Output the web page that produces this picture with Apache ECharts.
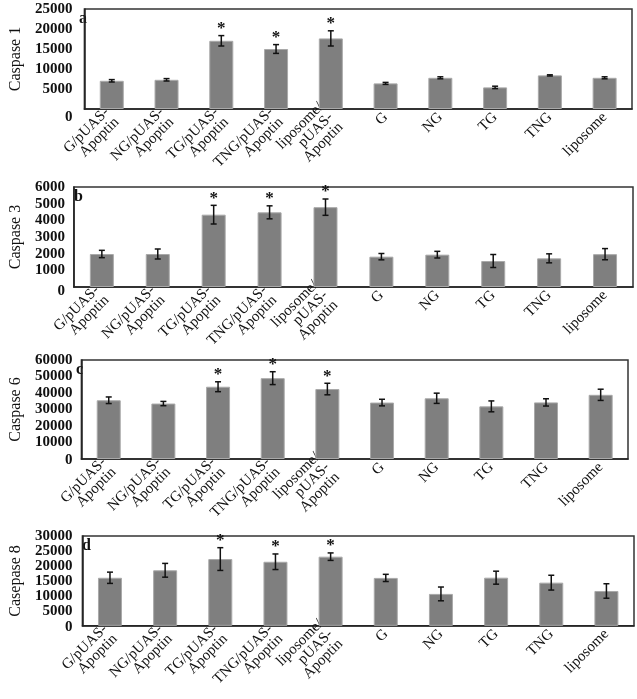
<!DOCTYPE html>
<html>
<head>
<meta charset="utf-8">
<script src="https://cdn.jsdelivr.net/npm/echarts@6/dist/echarts.min.js"></script>
<style>
html,body{margin:0;padding:0;background:#fff;}
#chart{width:637px;height:699px;}
</style>
</head>
<body>
<div id="chart"></div>
<script>
const categories = ['G/pUAS-\nApoptin', 'NG/pUAS-\nApoptin', 'TG/pUAS-\nApoptin', 'TNG/pUAS-\nApoptin', 'liposome/\npUAS-\nApoptin', 'G', 'NG', 'TG', 'TNG', 'liposome'];

const caspase1Mean = [7050, 7300, 17050, 15000, 17650, 6400, 7800, 5400, 8400, 7800];
const caspase1Err  = [300, 300, 1300, 1100, 1900, 250, 250, 300, 150, 250];
const caspase3Mean = [1980, 1980, 4340, 4480, 4790, 1820, 1940, 1560, 1720, 1970];
const caspase3Err  = [220, 300, 560, 390, 490, 190, 200, 390, 270, 335];
const caspase6Mean = [35600, 33600, 43800, 49000, 42400, 34200, 36800, 31900, 34300, 38900];
const caspase6Err  = [2000, 1300, 3000, 3900, 3500, 2000, 3100, 3300, 2200, 3400];
const caspase8Mean = [16050, 18550, 22300, 21400, 23100, 16000, 10660, 16080, 14420, 11640];
const caspase8Err  = [1880, 2300, 3800, 2600, 1250, 1200, 2300, 2170, 2470, 2420];
const significant  = [0, 0, 1, 1, 1, 0, 0, 0, 0, 0];

const yNames = ['Caspase 1', 'Caspase 3', 'Caspase 6', 'Casepase 8'];
const yMax = [25000, 6000, 60000, 30000];
const yInterval = [5000, 1000, 10000, 5000];
const panelLetters = ['a', 'b', 'c', 'd'];

const means = [caspase1Mean, caspase3Mean, caspase6Mean, caspase8Mean];
const errs = [caspase1Err, caspase3Err, caspase6Err, caspase8Err];

// layout (pixels)
const grids = [
  {left: 67, right: 5, top: 9, height: 100},
  {left: 62, right: 4, top: 187, height: 100},
  {left: 64, right: 9, top: 360, height: 99},
  {left: 70, right: 3, top: 536, height: 101}
];
const nameGaps = [52, 49, 51, 56];
const labelMargins = [12, 9, 9, 10];
const zeroPad = [16, 8, 2, 2];

const FONT = 'Liberation Serif';

function errRender(params, api) {
  const i = api.value(0), m = api.value(1), e = api.value(2), s = api.value(3);
  const hi = api.coord([i, m + e]);
  const lo = api.coord([i, m - e]);
  const x = hi[0], cap = 3;
  const st = {stroke: '#111', lineWidth: 1.5};
  const children = [
    {type: 'line', shape: {x1: x, y1: hi[1], x2: x, y2: lo[1]}, style: st},
    {type: 'line', shape: {x1: x - cap, y1: hi[1], x2: x + cap, y2: hi[1]}, style: st},
    {type: 'line', shape: {x1: x - cap, y1: lo[1], x2: x + cap, y2: lo[1]}, style: st}
  ];
  if (s) {
    children.push({type: 'text', style: {text: '*', x: x, y: hi[1] - 7, align: 'center', verticalAlign: 'middle',
      fontSize: 17, fontWeight: 'bold', fontFamily: FONT, fill: '#111'}});
  }
  return {type: 'group', children: children};
}

const option = {
  backgroundColor: '#fff',
  animation: false,
  grid: grids.map(g => Object.assign({show: true, borderColor: '#333', borderWidth: 1.5, backgroundColor: 'transparent'}, g)),
  xAxis: grids.map((g, k) => ({
    type: 'category', gridIndex: k, data: categories,
    axisLine: {lineStyle: {color: '#222', width: 1.5}},
    axisTick: {inside: true, length: 4, lineStyle: {color: '#222', width: 1.2}},
    axisLabel: {interval: 0, rotate: 45, fontFamily: FONT, fontSize: 15, color: '#111', lineHeight: 14, margin: 6}
  })),
  yAxis: grids.map((g, k) => ({
    type: 'value', gridIndex: k, min: 0, max: yMax[k], interval: yInterval[k],
    name: yNames[k], nameLocation: 'middle', nameGap: nameGaps[k],
    nameTextStyle: {fontFamily: FONT, fontSize: 16, color: '#111'},
    splitLine: {show: false},
    axisLine: {show: true, lineStyle: {color: '#222', width: 1.5}},
    axisTick: {show: false},
    axisLabel: {
      margin: labelMargins[k], fontFamily: FONT, fontSize: 15, fontWeight: 'bold', color: '#111',
      formatter: v => v === 0 ? '{z|0}' : String(v),
      rich: {z: {fontFamily: FONT, fontSize: 15, fontWeight: 'bold', color: '#111', padding: [zeroPad[k], 0, 0, 0]}}
    }
  })),
  graphic: grids.map((g, k) => ({
    type: 'text', left: g.left + 12, top: g.top + 2,
    style: {text: panelLetters[k], fontFamily: FONT, fontSize: 16, fontWeight: 'bold', fill: '#111'}
  })),
  series: []
};

for (let k = 0; k < 4; k++) {
  option.series.push({
    type: 'bar', xAxisIndex: k, yAxisIndex: k, data: means[k], barWidth: 24,
    itemStyle: {color: '#7f7f7f', borderColor: '#a9a9a9', borderWidth: 1}
  });
  option.series.push({
    type: 'custom', xAxisIndex: k, yAxisIndex: k, renderItem: errRender, z: 5,
    data: means[k].map((m, i) => [i, m, errs[k][i], significant[i]])
  });
}

const chart = echarts.init(document.getElementById('chart'), null, {renderer: 'canvas'});
chart.setOption(option);
</script>
</body>
</html>
